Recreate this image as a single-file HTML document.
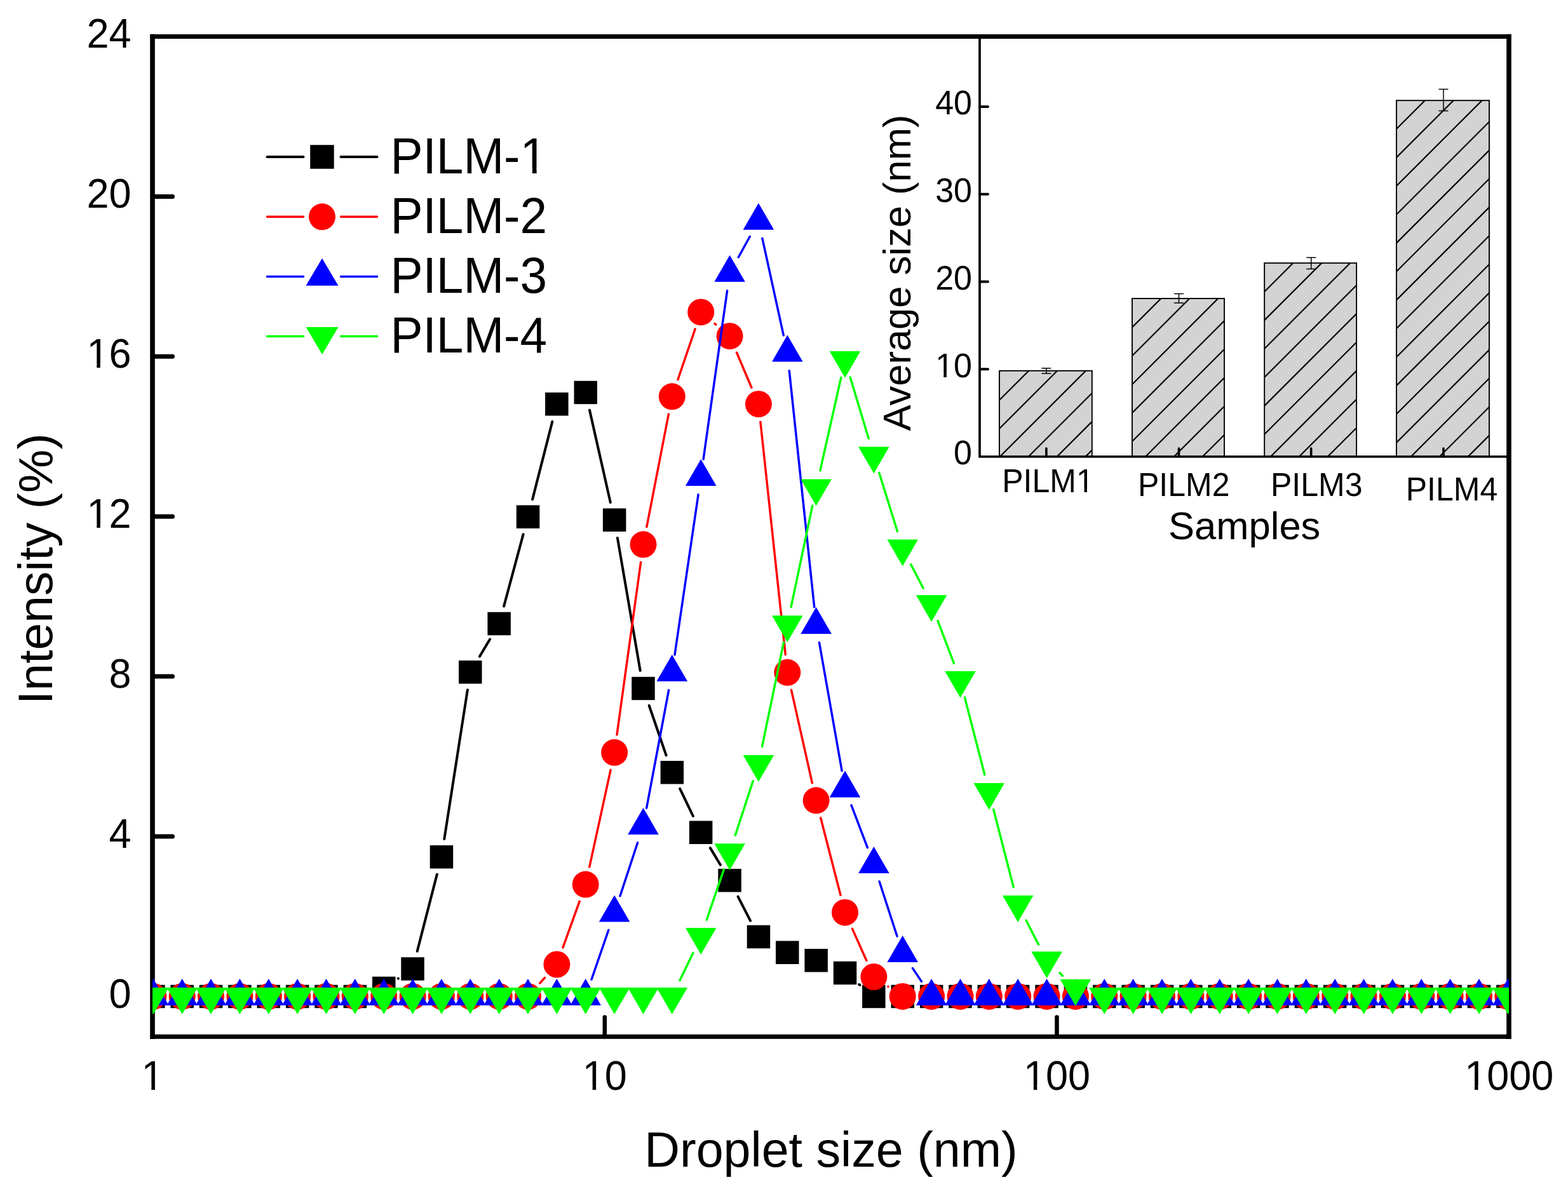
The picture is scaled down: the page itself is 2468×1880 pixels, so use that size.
<!DOCTYPE html>
<html><head><meta charset="utf-8"><title>Droplet size distribution</title>
<style>html,body{margin:0;padding:0;background:#fff;}svg{display:block;}</style>
</head><body>
<svg width="2468" height="1880" viewBox="0 0 2468 1880">
<defs><clipPath id="pc"><rect x="240" y="57.5" width="2135" height="1575"/></clipPath></defs>
<rect width="2468" height="1880" fill="#fff"/>
<clipPath id="b0"><rect x="1573" y="583.8" width="145.8" height="135.2"/></clipPath>
<rect x="1573" y="583.8" width="145.8" height="135.2" fill="#d3d3d3"/>
<path d="M1568 500.3L1723.8 344.5M1568 545.2L1723.8 389.4M1568 590.1L1723.8 434.3M1568 635L1723.8 479.2M1568 679.9L1723.8 524.1M1568 724.8L1723.8 569M1568 769.7L1723.8 613.9M1568 814.6L1723.8 658.8M1568 859.5L1723.8 703.7M1568 904.4L1723.8 748.6M1568 949.3L1723.8 793.5" stroke="#000" stroke-width="2.2" fill="none" clip-path="url(#b0)"/>
<rect x="1573" y="583.8" width="145.8" height="135.2" fill="none" stroke="#000" stroke-width="1.9"/>
<path d="M1646.9 579.8V588.1M1639.4 579.8h15M1639.4 588.1h15" stroke="#000" stroke-width="1.5" fill="none"/>
<path d="M1646.9 719V706" stroke="#000" stroke-width="3.6" stroke-linecap="round"/>
<g transform="translate(1649.5 775) scale(1 1.04)"><text font-size="50" text-anchor="middle" font-family="'Liberation Sans', Arial, Helvetica, sans-serif">PILM1</text><g fill="#fff"><rect x="47.51" y="-5.74" width="9.51" height="6.34"/><rect x="61.44" y="-5.74" width="9.14" height="6.34"/></g></g>
<clipPath id="b1"><rect x="1782" y="470" width="145" height="249"/></clipPath>
<rect x="1782" y="470" width="145" height="249" fill="#d3d3d3"/>
<path d="M1777 385.7L1932 230.7M1777 430.6L1932 275.6M1777 475.5L1932 320.5M1777 520.4L1932 365.4M1777 565.3L1932 410.3M1777 610.2L1932 455.2M1777 655.1L1932 500.1M1777 700L1932 545M1777 744.9L1932 589.9M1777 789.8L1932 634.8M1777 834.7L1932 679.7M1777 879.6L1932 724.6M1777 924.5L1932 769.5" stroke="#000" stroke-width="2.2" fill="none" clip-path="url(#b1)"/>
<rect x="1782" y="470" width="145" height="249" fill="none" stroke="#000" stroke-width="1.9"/>
<path d="M1855.5 462.4V477.1M1848 462.4h15M1848 477.1h15" stroke="#000" stroke-width="1.5" fill="none"/>
<path d="M1855.5 719V706" stroke="#000" stroke-width="3.6" stroke-linecap="round"/>
<g transform="translate(1863.2 781.3) scale(1 1.04)"><text font-size="50" text-anchor="middle" font-family="'Liberation Sans', Arial, Helvetica, sans-serif">PILM2</text></g>
<clipPath id="b2"><rect x="1990.2" y="414.2" width="144.9" height="304.8"/></clipPath>
<rect x="1990.2" y="414.2" width="144.9" height="304.8" fill="#d3d3d3"/>
<path d="M1985.2 329.6L2140.1 174.7M1985.2 374.5L2140.1 219.6M1985.2 419.4L2140.1 264.5M1985.2 464.3L2140.1 309.4M1985.2 509.2L2140.1 354.3M1985.2 554.1L2140.1 399.2M1985.2 599L2140.1 444.1M1985.2 643.9L2140.1 489M1985.2 688.8L2140.1 533.9M1985.2 733.7L2140.1 578.8M1985.2 778.6L2140.1 623.7M1985.2 823.5L2140.1 668.6M1985.2 868.4L2140.1 713.5M1985.2 913.3L2140.1 758.4M1985.2 958.2L2140.1 803.3" stroke="#000" stroke-width="2.2" fill="none" clip-path="url(#b2)"/>
<rect x="1990.2" y="414.2" width="144.9" height="304.8" fill="none" stroke="#000" stroke-width="1.9"/>
<path d="M2063.7 405.4V423.4M2056.2 405.4h15M2056.2 423.4h15" stroke="#000" stroke-width="1.5" fill="none"/>
<path d="M2063.7 719V706" stroke="#000" stroke-width="3.6" stroke-linecap="round"/>
<g transform="translate(2072.2 781.3) scale(1 1.04)"><text font-size="50" text-anchor="middle" font-family="'Liberation Sans', Arial, Helvetica, sans-serif">PILM3</text></g>
<clipPath id="b3"><rect x="2198" y="158.2" width="146" height="560.8"/></clipPath>
<rect x="2198" y="158.2" width="146" height="560.8" fill="#d3d3d3"/>
<path d="M2193 118.2L2349 -37.8M2193 163.1L2349 7.1M2193 208L2349 52M2193 252.9L2349 96.9M2193 297.8L2349 141.8M2193 342.7L2349 186.7M2193 387.6L2349 231.6M2193 432.5L2349 276.5M2193 477.4L2349 321.4M2193 522.3L2349 366.3M2193 567.2L2349 411.2M2193 612.1L2349 456.1M2193 657L2349 501M2193 701.9L2349 545.9M2193 746.8L2349 590.8M2193 791.7L2349 635.7M2193 836.6L2349 680.6M2193 881.5L2349 725.5M2193 926.4L2349 770.4" stroke="#000" stroke-width="2.2" fill="none" clip-path="url(#b3)"/>
<rect x="2198" y="158.2" width="146" height="560.8" fill="none" stroke="#000" stroke-width="1.9"/>
<path d="M2272 140.4V174.6M2264.5 140.4h15M2264.5 174.6h15" stroke="#000" stroke-width="1.5" fill="none"/>
<path d="M2272 719V706" stroke="#000" stroke-width="3.6" stroke-linecap="round"/>
<g transform="translate(2285 788) scale(1 1.04)"><text font-size="50" text-anchor="middle" font-family="'Liberation Sans', Arial, Helvetica, sans-serif">PILM4</text></g>
<path d="M1542 57.5V719H2375" stroke="#000" stroke-width="3.7" fill="none"/>
<g transform="translate(1530 731.2) scale(1 1.04)"><text font-size="52" text-anchor="end" font-family="'Liberation Sans', Arial, Helvetica, sans-serif">0</text></g>
<path d="M1542 581.2H1555" stroke="#000" stroke-width="4" stroke-linecap="round"/>
<g transform="translate(1530 593.5) scale(1 1.04)"><text font-size="52" text-anchor="end" font-family="'Liberation Sans', Arial, Helvetica, sans-serif">10</text><g fill="#fff"><rect x="-54.63" y="-5.88" width="9.87" height="6.48"/><rect x="-40.17" y="-5.88" width="9.49" height="6.48"/></g></g>
<path d="M1542 443.5H1555" stroke="#000" stroke-width="4" stroke-linecap="round"/>
<g transform="translate(1530 455.7) scale(1 1.04)"><text font-size="52" text-anchor="end" font-family="'Liberation Sans', Arial, Helvetica, sans-serif">20</text></g>
<path d="M1542 305.8H1555" stroke="#000" stroke-width="4" stroke-linecap="round"/>
<g transform="translate(1530 317.9) scale(1 1.04)"><text font-size="52" text-anchor="end" font-family="'Liberation Sans', Arial, Helvetica, sans-serif">30</text></g>
<path d="M1542 168H1555" stroke="#000" stroke-width="4" stroke-linecap="round"/>
<g transform="translate(1530 180.2) scale(1 1.04)"><text font-size="52" text-anchor="end" font-family="'Liberation Sans', Arial, Helvetica, sans-serif">40</text></g>
<g transform="translate(1958.7 849.3)"><text font-size="61.5" text-anchor="middle" font-family="'Liberation Sans', Arial, Helvetica, sans-serif">Samples</text></g>
<g transform="translate(1433.2 429.5) rotate(-90)"><text font-size="61.5" text-anchor="middle" font-family="'Liberation Sans', Arial, Helvetica, sans-serif">Average size (nm)</text></g>
<path d="M240 57.5V1632.3M2375 57.5V1632.3" stroke="#000" stroke-width="7.6" stroke-linecap="square" fill="none"/>
<path d="M240 57.5H2375" stroke="#000" stroke-width="6.8" stroke-linecap="square" fill="none"/>
<path d="M240 1632.3H2375" stroke="#000" stroke-width="6.9" stroke-linecap="square" fill="none"/>
<path d="M240 1317H271.5" stroke="#000" stroke-width="7" stroke-linecap="round"/>
<path d="M240 1065.1H271.5" stroke="#000" stroke-width="7" stroke-linecap="round"/>
<path d="M240 813.2H271.5" stroke="#000" stroke-width="7" stroke-linecap="round"/>
<path d="M240 561.3H271.5" stroke="#000" stroke-width="7" stroke-linecap="round"/>
<path d="M240 309.4H271.5" stroke="#000" stroke-width="7" stroke-linecap="round"/>
<g transform="translate(206.5 1586.8) scale(1 1.04)"><text font-size="63" text-anchor="end" font-family="'Liberation Sans', Arial, Helvetica, sans-serif">0</text></g>
<g transform="translate(206.5 1334.9) scale(1 1.04)"><text font-size="63" text-anchor="end" font-family="'Liberation Sans', Arial, Helvetica, sans-serif">4</text></g>
<g transform="translate(206.5 1083) scale(1 1.04)"><text font-size="63" text-anchor="end" font-family="'Liberation Sans', Arial, Helvetica, sans-serif">8</text></g>
<g transform="translate(206.5 831.1) scale(1 1.04)"><text font-size="63" text-anchor="end" font-family="'Liberation Sans', Arial, Helvetica, sans-serif">12</text><g fill="#fff"><rect x="-66.06" y="-6.71" width="11.83" height="7.31"/><rect x="-48.67" y="-6.71" width="11.37" height="7.31"/></g></g>
<g transform="translate(206.5 579.2) scale(1 1.04)"><text font-size="63" text-anchor="end" font-family="'Liberation Sans', Arial, Helvetica, sans-serif">16</text><g fill="#fff"><rect x="-66.06" y="-6.71" width="11.83" height="7.31"/><rect x="-48.67" y="-6.71" width="11.37" height="7.31"/></g></g>
<g transform="translate(206.5 327.3) scale(1 1.04)"><text font-size="63" text-anchor="end" font-family="'Liberation Sans', Arial, Helvetica, sans-serif">20</text></g>
<g transform="translate(206.5 75.4) scale(1 1.04)"><text font-size="63" text-anchor="end" font-family="'Liberation Sans', Arial, Helvetica, sans-serif">24</text></g>
<g transform="translate(240 1716.2) scale(1 1.04)"><text font-size="63" text-anchor="middle" font-family="'Liberation Sans', Arial, Helvetica, sans-serif">1</text><g fill="#fff"><rect x="-13.50" y="-6.71" width="11.83" height="7.31"/><rect x="3.89" y="-6.71" width="11.37" height="7.31"/></g></g>
<path d="M951.8 1632.3V1601.5" stroke="#000" stroke-width="6.5" stroke-linecap="round"/>
<g transform="translate(951.8 1716.2) scale(1 1.04)"><text font-size="63" text-anchor="middle" font-family="'Liberation Sans', Arial, Helvetica, sans-serif">10</text><g fill="#fff"><rect x="-31.02" y="-6.71" width="11.83" height="7.31"/><rect x="-13.63" y="-6.71" width="11.37" height="7.31"/></g></g>
<path d="M1663.5 1632.3V1601.5" stroke="#000" stroke-width="6.5" stroke-linecap="round"/>
<g transform="translate(1663.5 1716.2) scale(1 1.04)"><text font-size="63" text-anchor="middle" font-family="'Liberation Sans', Arial, Helvetica, sans-serif">100</text><g fill="#fff"><rect x="-48.54" y="-6.71" width="11.83" height="7.31"/><rect x="-31.15" y="-6.71" width="11.37" height="7.31"/></g></g>
<g transform="translate(2375.2 1716.2) scale(1 1.04)"><text font-size="63" text-anchor="middle" font-family="'Liberation Sans', Arial, Helvetica, sans-serif">1000</text><g fill="#fff"><rect x="-66.06" y="-6.71" width="11.83" height="7.31"/><rect x="-48.67" y="-6.71" width="11.37" height="7.31"/></g></g>
<g transform="translate(1308 1837)"><text font-size="77.2" text-anchor="middle" font-family="'Liberation Sans', Arial, Helvetica, sans-serif">Droplet size (nm)</text></g>
<g transform="translate(82.3 895.5) rotate(-90)"><text font-size="76.8" text-anchor="middle" font-family="'Liberation Sans', Arial, Helvetica, sans-serif">Intensity (%)</text></g>
<g clip-path="url(#pc)">
<path d="M626.84 1540.75L626.93 1540.69M656.7 1497.8L687.8 1376.7M699.3 1321L735.9 1086.3M754.9 1033.7L771.1 1006.5M793.1 954.5L823.6 841.3M838.1 786.2L869.3 663.9M928 645.8L960.8 791.1M971.9 847L1007.7 1055.9M1021.7 1111L1048.6 1189.3M1070.2 1241.9L1090.9 1285M1117.9 1335.1L1133.9 1361.8M1161.5 1411.7L1181 1449.7M1352.1 1550L1353.3 1550.9" stroke="#000" stroke-width="4" stroke-linecap="round" fill="none"/>
<path d="M223.1 1550.7h36.5v36.5h-36.5zM268.4 1550.7h36.5v36.5h-36.5zM313.8 1550.7h36.5v36.5h-36.5zM359.1 1550.7h36.5v36.5h-36.5zM404.5 1550.7h36.5v36.5h-36.5zM449.9 1550.7h36.5v36.5h-36.5zM495.2 1550.7h36.5v36.5h-36.5zM540.6 1550.7h36.5v36.5h-36.5zM586 1537.7h36.5v36.5h-36.5zM631.3 1507.2h36.5v36.5h-36.5zM676.7 1330.9h36.5v36.5h-36.5zM722 1039.9h36.5v36.5h-36.5zM767.4 963.7h36.5v36.5h-36.5zM812.8 795.6h36.5v36.5h-36.5zM858.1 618h36.5v36.5h-36.5zM903.5 599.7h36.5v36.5h-36.5zM948.9 800.6h36.5v36.5h-36.5zM994.2 1065.7h36.5v36.5h-36.5zM1039.6 1198h36.5v36.5h-36.5zM1084.9 1292.5h36.5v36.5h-36.5zM1130.3 1368h36.5v36.5h-36.5zM1175.7 1456.8h36.5v36.5h-36.5zM1221 1481.4h36.5v36.5h-36.5zM1266.4 1494h36.5v36.5h-36.5zM1311.8 1513.7h36.5v36.5h-36.5zM1357.1 1550.7h36.5v36.5h-36.5zM1402.5 1550.7h36.5v36.5h-36.5zM1447.9 1550.7h36.5v36.5h-36.5zM1493.2 1550.7h36.5v36.5h-36.5zM1538.6 1550.7h36.5v36.5h-36.5zM1583.9 1550.7h36.5v36.5h-36.5zM1629.3 1550.7h36.5v36.5h-36.5zM1674.7 1550.7h36.5v36.5h-36.5zM1720 1550.7h36.5v36.5h-36.5zM1765.4 1550.7h36.5v36.5h-36.5zM1810.8 1550.7h36.5v36.5h-36.5zM1856.1 1550.7h36.5v36.5h-36.5zM1901.5 1550.7h36.5v36.5h-36.5zM1946.8 1550.7h36.5v36.5h-36.5zM1992.2 1550.7h36.5v36.5h-36.5zM2037.6 1550.7h36.5v36.5h-36.5zM2082.9 1550.7h36.5v36.5h-36.5zM2128.3 1550.7h36.5v36.5h-36.5zM2173.7 1550.7h36.5v36.5h-36.5zM2219 1550.7h36.5v36.5h-36.5zM2264.4 1550.7h36.5v36.5h-36.5zM2309.7 1550.7h36.5v36.5h-36.5zM2355.1 1550.7h36.5v36.5h-36.5z" fill="#000"/>
<path d="M849.9 1547.9L857.5 1539.5M886 1491.9L912.2 1419.1M927.8 1365L961.1 1212.4M971 1156.8L1008.6 885.3M1017.9 829.6L1052.4 652M1067 597.5L1094.1 518.1M1124.9 509.5L1126.9 511.1M1159.6 555.2L1182.9 610.2M1196.9 664.3L1236.3 1030.7M1245.5 1086.4L1278.4 1232.8M1291.7 1287.7L1323 1409.3M1341.5 1462.4L1363.8 1512.3M1398.02 1553.44L1398.10 1553.50" stroke="#f00" stroke-width="3.5" stroke-linecap="round" fill="none"/>
<path d="M220.3 1568.9a21 21 0 1 0 42 0a21 21 0 1 0 -42 0zM265.7 1568.9a21 21 0 1 0 42 0a21 21 0 1 0 -42 0zM311 1568.9a21 21 0 1 0 42 0a21 21 0 1 0 -42 0zM356.4 1568.9a21 21 0 1 0 42 0a21 21 0 1 0 -42 0zM401.8 1568.9a21 21 0 1 0 42 0a21 21 0 1 0 -42 0zM447.1 1568.9a21 21 0 1 0 42 0a21 21 0 1 0 -42 0zM492.5 1568.9a21 21 0 1 0 42 0a21 21 0 1 0 -42 0zM537.8 1568.9a21 21 0 1 0 42 0a21 21 0 1 0 -42 0zM583.2 1568.9a21 21 0 1 0 42 0a21 21 0 1 0 -42 0zM628.6 1568.9a21 21 0 1 0 42 0a21 21 0 1 0 -42 0zM673.9 1568.9a21 21 0 1 0 42 0a21 21 0 1 0 -42 0zM719.3 1568.9a21 21 0 1 0 42 0a21 21 0 1 0 -42 0zM764.7 1568.9a21 21 0 1 0 42 0a21 21 0 1 0 -42 0zM810 1568.9a21 21 0 1 0 42 0a21 21 0 1 0 -42 0zM855.4 1518.5a21 21 0 1 0 42 0a21 21 0 1 0 -42 0zM900.7 1392.6a21 21 0 1 0 42 0a21 21 0 1 0 -42 0zM946.1 1184.8a21 21 0 1 0 42 0a21 21 0 1 0 -42 0zM991.5 857.3a21 21 0 1 0 42 0a21 21 0 1 0 -42 0zM1036.8 624.3a21 21 0 1 0 42 0a21 21 0 1 0 -42 0zM1082.2 491.4a21 21 0 1 0 42 0a21 21 0 1 0 -42 0zM1127.6 529.2a21 21 0 1 0 42 0a21 21 0 1 0 -42 0zM1172.9 636.2a21 21 0 1 0 42 0a21 21 0 1 0 -42 0zM1218.3 1058.8a21 21 0 1 0 42 0a21 21 0 1 0 -42 0zM1263.6 1260.3a21 21 0 1 0 42 0a21 21 0 1 0 -42 0zM1309 1436.7a21 21 0 1 0 42 0a21 21 0 1 0 -42 0zM1354.4 1538a21 21 0 1 0 42 0a21 21 0 1 0 -42 0zM1399.7 1568.9a21 21 0 1 0 42 0a21 21 0 1 0 -42 0zM1445.1 1568.9a21 21 0 1 0 42 0a21 21 0 1 0 -42 0zM1490.5 1568.9a21 21 0 1 0 42 0a21 21 0 1 0 -42 0zM1535.8 1568.9a21 21 0 1 0 42 0a21 21 0 1 0 -42 0zM1581.2 1568.9a21 21 0 1 0 42 0a21 21 0 1 0 -42 0zM1626.6 1568.9a21 21 0 1 0 42 0a21 21 0 1 0 -42 0zM1671.9 1568.9a21 21 0 1 0 42 0a21 21 0 1 0 -42 0zM1717.3 1568.9a21 21 0 1 0 42 0a21 21 0 1 0 -42 0zM1762.6 1568.9a21 21 0 1 0 42 0a21 21 0 1 0 -42 0zM1808 1568.9a21 21 0 1 0 42 0a21 21 0 1 0 -42 0zM1853.4 1568.9a21 21 0 1 0 42 0a21 21 0 1 0 -42 0zM1898.7 1568.9a21 21 0 1 0 42 0a21 21 0 1 0 -42 0zM1944.1 1568.9a21 21 0 1 0 42 0a21 21 0 1 0 -42 0zM1989.5 1568.9a21 21 0 1 0 42 0a21 21 0 1 0 -42 0zM2034.8 1568.9a21 21 0 1 0 42 0a21 21 0 1 0 -42 0zM2080.2 1568.9a21 21 0 1 0 42 0a21 21 0 1 0 -42 0zM2125.5 1568.9a21 21 0 1 0 42 0a21 21 0 1 0 -42 0zM2170.9 1568.9a21 21 0 1 0 42 0a21 21 0 1 0 -42 0zM2216.3 1568.9a21 21 0 1 0 42 0a21 21 0 1 0 -42 0zM2261.6 1568.9a21 21 0 1 0 42 0a21 21 0 1 0 -42 0zM2307 1568.9a21 21 0 1 0 42 0a21 21 0 1 0 -42 0zM2352.4 1568.9a21 21 0 1 0 42 0a21 21 0 1 0 -42 0z" fill="#f00"/>
<path d="M931 1542.2L957.9 1464.3M976 1410.8L1003.6 1326.8M1017.7 1272.2L1052.6 1086.6M1062 1030.9L1099.1 778.8M1107.1 722.9L1144.6 457.7M1162.3 405L1180.2 372.5M1199.9 375.4L1233.3 528M1242.3 583.7L1281.7 955.8M1289.5 1011.7L1325.1 1213.6M1340 1267.8L1365.4 1334.7M1384.1 1388L1412 1474M1436.4 1524.4L1450.4 1545.4" stroke="#00f" stroke-width="3.5" stroke-linecap="round" fill="none"/>
<path d="M241.3 1540.9L265.6 1582.9L217 1582.9zM286.7 1540.9L311 1582.9L262.4 1582.9zM332 1540.9L356.3 1582.9L307.7 1582.9zM377.4 1540.9L401.7 1582.9L353.1 1582.9zM422.8 1540.9L447.1 1582.9L398.5 1582.9zM468.1 1540.9L492.4 1582.9L443.8 1582.9zM513.5 1540.9L537.8 1582.9L489.2 1582.9zM558.8 1540.9L583.1 1582.9L534.5 1582.9zM604.2 1540.9L628.5 1582.9L579.9 1582.9zM649.6 1540.9L673.9 1582.9L625.3 1582.9zM694.9 1540.9L719.2 1582.9L670.6 1582.9zM740.3 1540.9L764.6 1582.9L716 1582.9zM785.7 1540.9L810 1582.9L761.4 1582.9zM831 1540.9L855.3 1582.9L806.7 1582.9zM876.4 1540.9L900.7 1582.9L852.1 1582.9zM921.7 1540.9L946 1582.9L897.4 1582.9zM967.1 1409.6L991.4 1451.6L942.8 1451.6zM1012.5 1272L1036.8 1314L988.2 1314zM1057.8 1030.8L1082.1 1072.8L1033.5 1072.8zM1103.2 722.9L1127.5 764.9L1078.9 764.9zM1148.6 401.7L1172.9 443.7L1124.3 443.7zM1193.9 319.8L1218.2 361.8L1169.6 361.8zM1239.3 527.6L1263.6 569.6L1215 569.6zM1284.6 955.9L1308.9 997.9L1260.3 997.9zM1330 1213.4L1354.3 1255.4L1305.7 1255.4zM1375.4 1333.1L1399.7 1375.1L1351.1 1375.1zM1420.7 1472.9L1445 1514.9L1396.4 1514.9zM1466.1 1540.9L1490.4 1582.9L1441.8 1582.9zM1511.5 1540.9L1535.8 1582.9L1487.2 1582.9zM1556.8 1540.9L1581.1 1582.9L1532.5 1582.9zM1602.2 1540.9L1626.5 1582.9L1577.9 1582.9zM1647.6 1540.9L1671.9 1582.9L1623.3 1582.9zM1692.9 1540.9L1717.2 1582.9L1668.6 1582.9zM1738.3 1540.9L1762.6 1582.9L1714 1582.9zM1783.6 1540.9L1807.9 1582.9L1759.3 1582.9zM1829 1540.9L1853.3 1582.9L1804.7 1582.9zM1874.4 1540.9L1898.7 1582.9L1850.1 1582.9zM1919.7 1540.9L1944 1582.9L1895.4 1582.9zM1965.1 1540.9L1989.4 1582.9L1940.8 1582.9zM2010.5 1540.9L2034.8 1582.9L1986.2 1582.9zM2055.8 1540.9L2080.1 1582.9L2031.5 1582.9zM2101.2 1540.9L2125.5 1582.9L2076.9 1582.9zM2146.5 1540.9L2170.8 1582.9L2122.2 1582.9zM2191.9 1540.9L2216.2 1582.9L2167.6 1582.9zM2237.3 1540.9L2261.6 1582.9L2213 1582.9zM2282.6 1540.9L2306.9 1582.9L2258.3 1582.9zM2328 1540.9L2352.3 1582.9L2303.7 1582.9zM2373.4 1540.9L2397.7 1582.9L2349.1 1582.9z" fill="#00f"/>
<path d="M1070.1 1543.5L1090.9 1500.5M1112.3 1448.3L1139.4 1368.9M1157.3 1315.3L1185.2 1229.9M1199.6 1175.3L1233.6 1010.9M1245.1 955.6L1278.8 796.1M1290.9 740.9L1323.8 594.5M1338.2 594L1367.2 690.4M1383.8 744.5L1412.4 836.6M1433.7 888.7L1453.1 926M1476.1 977.5L1501.4 1044.4M1518.5 1098.1L1549.8 1219.7M1563.8 1274.5L1595.2 1396.7M1615.1 1449.2L1634.6 1487.1M1667.9 1531.8L1672.6 1536.4" stroke="#0f0" stroke-width="3.5" stroke-linecap="round" fill="none"/>
<path d="M217 1554.9L265.6 1554.9L241.3 1596.9zM262.4 1554.9L311 1554.9L286.7 1596.9zM307.7 1554.9L356.3 1554.9L332 1596.9zM353.1 1554.9L401.7 1554.9L377.4 1596.9zM398.5 1554.9L447.1 1554.9L422.8 1596.9zM443.8 1554.9L492.4 1554.9L468.1 1596.9zM489.2 1554.9L537.8 1554.9L513.5 1596.9zM534.5 1554.9L583.1 1554.9L558.8 1596.9zM579.9 1554.9L628.5 1554.9L604.2 1596.9zM625.3 1554.9L673.9 1554.9L649.6 1596.9zM670.6 1554.9L719.2 1554.9L694.9 1596.9zM716 1554.9L764.6 1554.9L740.3 1596.9zM761.4 1554.9L810 1554.9L785.7 1596.9zM806.7 1554.9L855.3 1554.9L831 1596.9zM852.1 1554.9L900.7 1554.9L876.4 1596.9zM897.4 1554.9L946 1554.9L921.7 1596.9zM942.8 1554.9L991.4 1554.9L967.1 1596.9zM988.2 1554.9L1036.8 1554.9L1012.5 1596.9zM1033.5 1554.9L1082.1 1554.9L1057.8 1596.9zM1078.9 1461.1L1127.5 1461.1L1103.2 1503.1zM1124.3 1328.2L1172.9 1328.2L1148.6 1370.2zM1169.6 1189L1218.2 1189L1193.9 1231zM1215 969.2L1263.6 969.2L1239.3 1011.2zM1260.3 754.5L1308.9 754.5L1284.6 796.5zM1305.7 553L1354.3 553L1330 595zM1351.1 703.5L1399.7 703.5L1375.4 745.5zM1396.4 849.6L1445 849.6L1420.7 891.6zM1441.8 937.1L1490.4 937.1L1466.1 979.1zM1487.2 1056.8L1535.8 1056.8L1511.5 1098.8zM1532.5 1233.1L1581.1 1233.1L1556.8 1275.1zM1577.9 1410.1L1626.5 1410.1L1602.2 1452.1zM1623.3 1498.2L1671.9 1498.2L1647.6 1540.2zM1668.6 1542L1717.2 1542L1692.9 1584zM1714 1554.9L1762.6 1554.9L1738.3 1596.9zM1759.3 1554.9L1807.9 1554.9L1783.6 1596.9zM1804.7 1554.9L1853.3 1554.9L1829 1596.9zM1850.1 1554.9L1898.7 1554.9L1874.4 1596.9zM1895.4 1554.9L1944 1554.9L1919.7 1596.9zM1940.8 1554.9L1989.4 1554.9L1965.1 1596.9zM1986.2 1554.9L2034.8 1554.9L2010.5 1596.9zM2031.5 1554.9L2080.1 1554.9L2055.8 1596.9zM2076.9 1554.9L2125.5 1554.9L2101.2 1596.9zM2122.2 1554.9L2170.8 1554.9L2146.5 1596.9zM2167.6 1554.9L2216.2 1554.9L2191.9 1596.9zM2213 1554.9L2261.6 1554.9L2237.3 1596.9zM2258.3 1554.9L2306.9 1554.9L2282.6 1596.9zM2303.7 1554.9L2352.3 1554.9L2328 1596.9zM2349.1 1554.9L2397.7 1554.9L2373.4 1596.9z" fill="#0f0"/>
</g>
<path d="M420.5 246.9H477.5M536.5 246.9H593.5" stroke="#000" stroke-width="4" stroke-linecap="round"/>
<path d="M488.2 228.2h37.5v37.5h-37.5z" fill="#000"/>
<g transform="translate(614.6 272.8) scale(1 1.04)"><text font-size="76.5" font-family="'Liberation Sans', Arial, Helvetica, sans-serif">PILM-1</text><g fill="#fff"><rect x="209.03" y="-7.72" width="14.23" height="8.32"/><rect x="230.02" y="-7.72" width="13.67" height="8.32"/></g></g>
<path d="M420.5 341.3H477.5M536.5 341.3H593.5" stroke="#f00" stroke-width="3.5" stroke-linecap="round"/>
<path d="M486 341.3a21 21 0 1 0 42 0a21 21 0 1 0 -42 0z" fill="#f00"/>
<g transform="translate(614.6 366.9) scale(1 1.04)"><text font-size="76.5" font-family="'Liberation Sans', Arial, Helvetica, sans-serif">PILM-2</text></g>
<path d="M420.5 435.4H477.5M536.5 435.4H593.5" stroke="#00f" stroke-width="3.5" stroke-linecap="round"/>
<path d="M507 406.7L532.5 449.7L481.5 449.7z" fill="#00f"/>
<g transform="translate(614.6 460.8) scale(1 1.04)"><text font-size="76.5" font-family="'Liberation Sans', Arial, Helvetica, sans-serif">PILM-3</text></g>
<path d="M420.5 529.4H477.5M536.5 529.4H593.5" stroke="#0f0" stroke-width="3.5" stroke-linecap="round"/>
<path d="M481.5 515.1L532.5 515.1L507 558.1z" fill="#0f0"/>
<g transform="translate(614.6 554.6) scale(1 1.04)"><text font-size="76.5" font-family="'Liberation Sans', Arial, Helvetica, sans-serif">PILM-4</text></g>
</svg>
</body></html>
